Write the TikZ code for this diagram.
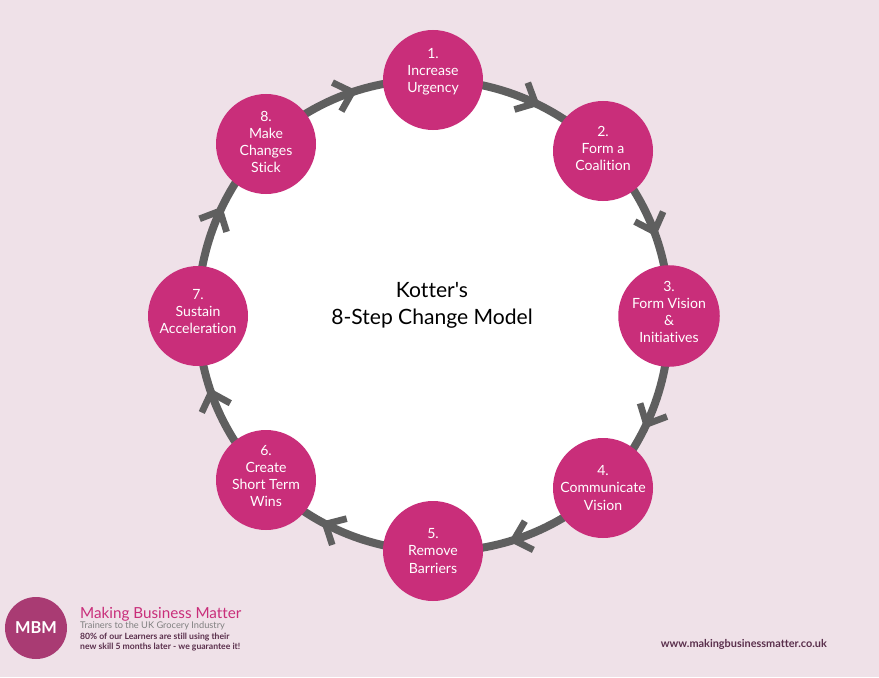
\documentclass[tikz,border=0pt]{standalone}
\usepackage{fontspec}
\setmainfont{Lato}[Ligatures=NoCommon]
\newfontfamily\plainfont{Lato}[Ligatures=NoCommon]
\usetikzlibrary{arrows.meta,backgrounds,decorations.markings}

\definecolor{pagebg}{HTML}{EFE1E8}
\definecolor{stepcol}{HTML}{C92E7A}
\definecolor{ringcol}{HTML}{5F5F5F}
\definecolor{logocol}{HTML}{A93B73}
\definecolor{plum}{HTML}{5A2F4C}

\tikzset{
  stepnode/.style={circle, fill=stepcol, text=white, minimum size=3cm, inner sep=0pt, align=center, font=\fontsize{12}{14.6}\selectfont},
  ringedge/.style={draw=ringcol, line width=.24cm, bend left=22.5, looseness=.885, postaction={decorate}, decoration={markings, mark=at position #1 with {\arrow[ringcol]{Straight Barb[length=4.8mm, width=9mm, line width=.2cm]}}}},
}

\begin{document}
\begin{tikzpicture}[x=.03cm, y=-.03cm]
\useasboundingbox (0,0) rectangle (879,677);

\node[stepnode, text depth=16.6pt] (s1) at (433,80) {1.\\Increase\\Urgency};
\node[stepnode, text depth=3.9pt] (s2) at (603,151) {2.\\Form a\\Coalition};
\node[stepnode, text depth=7.3pt] (s3) at (669,316) {3.\\Form Vision\\\&\\Initiatives};
\node[stepnode] (s4) at (603,488) {4.\\Communicate\\Vision};
\node[stepnode] (s5) at (433,551) {5.\\Remove\\Barriers};
\node[stepnode, text depth=6.4pt] (s6) at (266,480) {6.\\Create\\Short Term\\Wins};
\node[stepnode, text depth=8.1pt] (s7) at (198,316) {7.\\Sustain\\Acceleration};
\node[stepnode, text depth=3pt] (s8) at (266,144) {8.\\Make\\Changes\\Stick};

\begin{pgfonlayer}{background}
\fill[pagebg] (0,0) rectangle (879,677);
\node[circle, fill=white, minimum size=14.16cm, inner sep=0pt] (hub) at (433,316) {};
\draw[ringedge=.586] (s1.center) to (s2.center);
\draw[ringedge=.555] (s2.center) to (s3.center);
\draw[ringedge=.616] (s3.center) to (s4.center);
\draw[ringedge=.586] (s4.center) to (s5.center);
\draw[ringedge=.627] (s5.center) to (s6.center);
\draw[ringedge=.598] (s6.center) to (s7.center);
\draw[ringedge=.596] (s7.center) to (s8.center);
\draw[ringedge=.579] (s8.center) to (s1.center);
\end{pgfonlayer}

\node[align=center, font=\plainfont\fontsize{18}{23}\selectfont] (title) at (432,305) {Kotter's\\8-Step Change Model};

\node[circle, fill=logocol, text=white, minimum size=1.86cm, inner sep=0pt, font=\fontsize{14}{16}\selectfont\bfseries] (logo) at (36,628) {MBM};
\node[anchor=west, inner sep=0pt, text=stepcol, font=\fontsize{13}{15}\selectfont] (brand) at (80,614) {Making Business Matter};
\node[anchor=west, inner sep=0pt, text=gray, font=\fontsize{7.9}{9}\selectfont] (strap) at (80,626) {Trainers to the UK Grocery Industry};
\node[anchor=west, inner sep=0pt, text=plum, align=left, font=\fontsize{7.35}{9}\selectfont\bfseries] (claim) at (80,642) {80\% of our Learners are still using their\\new skill 5 months later - we guarantee it!};
\node[anchor=east, inner sep=0pt, text=plum, font=\fontsize{9.3}{11}\selectfont\bfseries] (web) at (827,644) {www.makingbusinessmatter.co.uk};
\end{tikzpicture}
\end{document}
